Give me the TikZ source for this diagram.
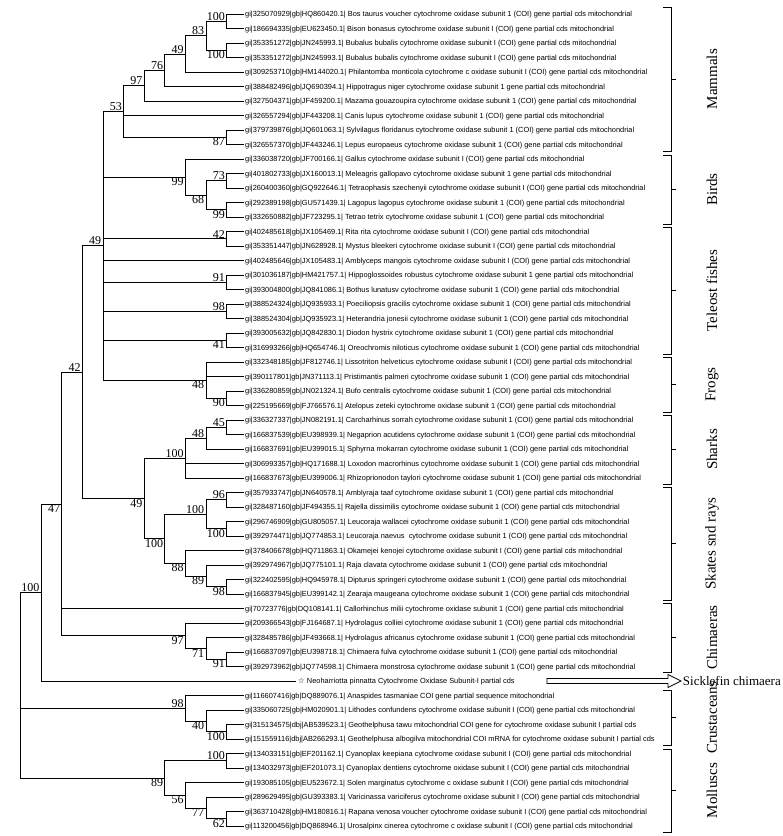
\documentclass[tikz,border=0pt]{standalone}
\usepackage{fontspec}
\setmainfont{Liberation Serif}
\newfontfamily\labfont{Liberation Sans}
\newfontfamily\symfont{DejaVu Sans}
\usetikzlibrary{calc}
\newcommand\lf[3]{%
  \coordinate (#2) at (244,{14+14.5*(#1-1)});
  \node[lab,anchor=base west] (#2t) at ([yshift=-2.7pt]#2) {#3};}
\newcommand\inode[4]{\path let \p1=($(#3)!0.5!(#4)$) in coordinate (#1) at ({226.5pt-20.6pt*(#2-1)},\y1);}
\newcommand\ba[2]{\node[bs,anchor=south east] (#1lab) at ([xshift=-1pt]#1) {#2};}
\newcommand\bb[2]{\node[bs,anchor=north east] (#1lab) at ([xshift=-1pt]#1) {#2};}
\newcommand\ed[2]{\draw[br] (#1) |- (#2);}
\newcommand\brk[4]{%
  \draw[br] (663,#1) -- (671,#1) -- (671,#2) -- (663,#2);
  \draw[br] (671,{(#1+#2)/2}) -- (676,{(#1+#2)/2});
  \node[grp] (#3) at (712,{(#1+#2)/2}) {#4};}
\begin{document}
\begin{tikzpicture}[x=1pt,y=-1pt,
  br/.style={line width=0.7pt},
  lab/.style={font=\labfont\fontsize{7.4}{8}\selectfont, inner sep=0pt, inner xsep=1pt},
  bs/.style={font=\fontsize{12}{12}\selectfont, inner sep=0.5pt},
  grp/.style={font=\fontsize{15}{15}\selectfont, rotate=90, inner sep=0pt}]
\useasboundingbox (0,0) rectangle (783,836);
% leaves
\lf{1}{L1}{gi|325070929|gb|HQ860420.1| Bos taurus voucher cytochrome oxidase subunit 1 (COI) gene partial cds mitochondrial}
\lf{2}{L2}{gi|186694335|gb|EU623450.1| Bison bonasus cytochrome oxidase subunit I (COI) gene partial cds mitochondrial}
\lf{3}{L3}{gi|353351272|gb|JN245993.1| Bubalus bubalis cytochrome oxidase subunit I (COI) gene partial cds mitochondrial}
\lf{4}{L4}{gi|353351272|gb|JN245993.1| Bubalus bubalis cytochrome oxidase subunit I (COI) gene partial cds mitochondrial}
\lf{5}{L5}{gi|309253710|gb|HM144020.1| Philantomba monticola cytochrome c oxidase subunit I (COI) gene partial cds mitochondrial}
\lf{6}{L6}{gi|388482496|gb|JQ690394.1| Hippotragus niger cytochrome oxidase subunit 1 gene partial cds mitochondrial}
\lf{7}{L7}{gi|327504371|gb|JF459200.1| Mazama gouazoupira cytochrome oxidase subunit 1 (COI) gene partial cds mitochondrial}
\lf{8}{L8}{gi|326557294|gb|JF443208.1| Canis lupus cytochrome oxidase subunit 1 (COI) gene partial cds mitochondrial}
\lf{9}{L9}{gi|379739876|gb|JQ601063.1| Sylvilagus floridanus cytochrome oxidase subunit 1 (COI) gene partial cds mitochondrial}
\lf{10}{L10}{gi|326557370|gb|JF443246.1| Lepus europaeus cytochrome oxidase subunit 1 (COI) gene partial cds mitochondrial}
\lf{11}{L11}{gi|336038720|gb|JF700166.1| Gallus cytochrome oxidase subunit I (COI) gene partial cds mitochondrial}
\lf{12}{L12}{gi|401802733|gb|JX160013.1| Meleagris gallopavo cytochrome oxidase subunit 1 gene partial cds mitochondrial}
\lf{13}{L13}{gi|260400360|gb|GQ922646.1| Tetraophasis szechenyii cytochrome oxidase subunit I (COI) gene partial cds mitochondrial}
\lf{14}{L14}{gi|292389198|gb|GU571439.1| Lagopus lagopus cytochrome oxidase subunit 1 (COI) gene partial cds mitochondrial}
\lf{15}{L15}{gi|332650882|gb|JF723295.1| Tetrao tetrix cytochrome oxidase subunit 1 (COI) gene partial cds mitochondrial}
\lf{16}{L16}{gi|402485618|gb|JX105469.1| Rita rita cytochrome oxidase subunit I (COI) gene partial cds mitochondrial}
\lf{17}{L17}{gi|353351447|gb|JN628928.1| Mystus bleekeri cytochrome oxidase subunit I (COI) gene partial cds mitochondrial}
\lf{18}{L18}{gi|402485646|gb|JX105483.1| Amblyceps mangois cytochrome oxidase subunit I (COI) gene partial cds mitochondrial}
\lf{19}{L19}{gi|301036187|gb|HM421757.1| Hippoglossoides robustus cytochrome oxidase subunit 1 gene partial cds mitochondrial}
\lf{20}{L20}{gi|393004800|gb|JQ841086.1| Bothus lunatusv cytochrome oxidase subunit 1 (COI) gene partial cds mitochondrial}
\lf{21}{L21}{gi|388524324|gb|JQ935933.1| Poeciliopsis gracilis cytochrome oxidase subunit 1 (COI) gene partial cds mitochondrial}
\lf{22}{L22}{gi|388524304|gb|JQ935923.1| Heterandria jonesii cytochrome oxidase subunit 1 (COI) gene partial cds mitochondrial}
\lf{23}{L23}{gi|393005632|gb|JQ842830.1| Diodon hystrix cytochrome oxidase subunit 1 (COI) gene partial cds mitochondrial}
\lf{24}{L24}{gi|316993266|gb|HQ654746.1| Oreochromis niloticus cytochrome oxidase subunit 1 (COI) gene partial cds mitochondrial}
\lf{25}{L25}{gi|332348185|gb|JF812746.1| Lissotriton helveticus cytochrome oxidase subunit I (COI) gene partial cds mitochondrial}
\lf{26}{L26}{gi|390117801|gb|JN371113.1| Pristimantis palmeri cytochrome oxidase subunit 1 (COI) gene partial cds mitochondrial}
\lf{27}{L27}{gi|336280859|gb|JN021324.1| Bufo centralis cytochrome oxidase subunit 1 (COI) gene partial cds mitochondrial}
\lf{28}{L28}{gi|225195669|gb|FJ766576.1| Atelopus zeteki cytochrome oxidase subunit 1 (COI) gene partial cds mitochondrial}
\lf{29}{L29}{gi|336327337|gb|JN082191.1| Carcharhinus sorrah cytochrome oxidase subunit 1 (COI) gene partial cds mitochondrial}
\lf{30}{L30}{gi|166837539|gb|EU398939.1| Negaprion acutidens cytochrome oxidase subunit 1 (COI) gene partial cds mitochondrial}
\lf{31}{L31}{gi|166837691|gb|EU399015.1| Sphyrna mokarran cytochrome oxidase subunit 1 (COI) gene partial cds mitochondrial}
\lf{32}{L32}{gi|306993357|gb|HQ171688.1| Loxodon macrorhinus cytochrome oxidase subunit 1 (COI) gene partial cds mitochondrial}
\lf{33}{L33}{gi|166837673|gb|EU399006.1| Rhizoprionodon taylori cytochrome oxidase subunit 1 (COI) gene partial cds mitochondrial}
\lf{34}{L34}{gi|357933747|gb|JN640578.1| Amblyraja taaf cytochrome oxidase subunit 1 (COI) gene partial cds mitochondrial}
\lf{35}{L35}{gi|328487160|gb|JF494355.1| Rajella dissimilis cytochrome oxidase subunit 1 (COI) gene partial cds mitochondrial}
\lf{36}{L36}{gi|296746909|gb|GU805057.1| Leucoraja wallacei cytochrome oxidase subunit 1 (COI) gene partial cds mitochondrial}
\lf{37}{L37}{gi|392974471|gb|JQ774853.1| Leucoraja naevus \ cytochrome oxidase subunit 1 (COI) gene partial cds mitochondrial}
\lf{38}{L38}{gi|378406678|gb|HQ711863.1| Okamejei kenojei cytochrome oxidase subunit I (COI) gene partial cds mitochondrial}
\lf{39}{L39}{gi|392974967|gb|JQ775101.1| Raja clavata cytochrome oxidase subunit 1 (COI) gene partial cds mitochondrial}
\lf{40}{L40}{gi|322402595|gb|HQ945978.1| Dipturus springeri cytochrome oxidase subunit 1 (COI) gene partial cds mitochondrial}
\lf{41}{L41}{gi|166837945|gb|EU399142.1| Zearaja maugeana cytochrome oxidase subunit 1 (COI) gene partial cds mitochondrial}
\lf{42}{L42}{gi|70723776|gb|DQ108141.1| Callorhinchus milii cytochrome oxidase subunit 1 (COI) gene partial cds mitochondrial}
\lf{43}{L43}{gi|209366543|gb|FJ164687.1| Hydrolagus colliei cytochrome oxidase subunit 1 (COI) gene partial cds mitochondrial}
\lf{44}{L44}{gi|328485786|gb|JF493668.1| Hydrolagus africanus cytochrome oxidase subunit 1 (COI) gene partial cds mitochondrial}
\lf{45}{L45}{gi|166837097|gb|EU398718.1| Chimaera fulva cytochrome oxidase subunit 1 (COI) gene partial cds mitochondrial}
\lf{46}{L46}{gi|392973962|gb|JQ774598.1| Chimaera monstrosa cytochrome oxidase subunit 1 (COI) gene partial cds mitochondrial}
\coordinate (L47) at (296,{14+14.5*46});
\node[lab,anchor=base west] (L47t) at ([yshift=-2.7pt,xshift=1pt]L47) {{\symfont\fontsize{7.5}{8}\selectfont ☆} Neoharriotta pinnatta Cytochrome Oxidase Subunit-I partial cds};
\lf{48}{L48}{gi|116607416|gb|DQ889076.1| Anaspides tasmaniae COI gene partial sequence mitochondrial}
\lf{49}{L49}{gi|335060725|gb|HM020901.1| Lithodes confundens cytochrome oxidase subunit I (COI) gene partial cds mitochondrial}
\lf{50}{L50}{gi|315134575|dbj|AB539523.1| Geothelphusa tawu mitochondrial COI gene for cytochrome oxidase subunit I partial cds}
\lf{51}{L51}{gi|151559116|dbj|AB266293.1| Geothelphusa albogilva mitochondrial COI mRNA for cytochrome oxidase subunit I partial cds}
\lf{52}{L52}{gi|134033151|gb|EF201162.1| Cyanoplax keepiana cytochrome oxidase subunit I (COI) gene partial cds mitochondrial}
\lf{53}{L53}{gi|134032973|gb|EF201073.1| Cyanoplax dentiens cytochrome oxidase subunit I (COI) gene partial cds mitochondrial}
\lf{54}{L54}{gi|193085105|gb|EU523672.1| Solen marginatus cytochrome c oxidase subunit I (COI) gene partial cds mitochondrial}
\lf{55}{L55}{gi|289629495|gb|GU393383.1| Varicinassa variciferus cytochrome oxidase subunit I (COI) gene partial cds mitochondrial}
\lf{56}{L56}{gi|363710428|gb|HM180816.1| Rapana venosa voucher cytochrome oxidase subunit I (COI) gene partial cds mitochondrial}
\lf{57}{L57}{gi|113200456|gb|DQ868946.1| Urosalpinx cinerea cytochrome c oxidase subunit I (COI) gene partial cds mitochondrial}
% internal nodes
\inode{nBos}{1}{L1}{L2}
\inode{nBub}{1}{L3}{L4}
\inode{n83}{2}{nBos}{nBub}
\inode{n49a}{3}{n83}{L5}
\inode{n76}{4}{n49a}{L6}
\inode{n97}{5}{n76}{L7}
\inode{n87}{1}{L9}{L10}
\inode{n53}{6}{n97}{n87}
\inode{n73}{1}{L12}{L13}
\inode{n99b}{1}{L14}{L15}
\inode{n68}{2}{n73}{n99b}
\inode{n99a}{3}{L11}{n68}
\inode{n42t}{1}{L16}{L17}
\inode{n91}{1}{L19}{L20}
\inode{n98t}{1}{L21}{L22}
\inode{n41}{1}{L23}{L24}
\inode{n90}{1}{L27}{L28}
\inode{n48f}{2}{L25}{n90}
\inode{n49b}{7}{n53}{n48f}
\inode{n45}{1}{L29}{L30}
\inode{n48s}{2}{n45}{L31}
\inode{n100s}{3}{n48s}{L33}
\inode{n96}{1}{L34}{L35}
\inode{n100L}{1}{L36}{L37}
\inode{n100a}{2}{n96}{n100L}
\inode{n98z}{1}{L40}{L41}
\inode{n89r}{2}{L39}{n98z}
\inode{n88}{3}{L38}{n89r}
\inode{n100r}{4}{n100a}{n88}
\inode{n49s}{5}{n100s}{n100r}
\inode{n42}{8}{n49b}{n49s}
\inode{n91c}{1}{L45}{L46}
\inode{n71}{2}{L44}{n91c}
\inode{n97c}{3}{L43}{n71}
\inode{n47}{9}{n42}{n97c}
\inode{nA}{10}{n47}{L47}
\inode{n100g}{1}{L50}{L51}
\inode{n40}{2}{L49}{n100g}
\inode{n98c}{3}{L48}{n40}
\inode{n100c}{1}{L52}{L53}
\inode{n62}{1}{L56}{L57}
\inode{n77}{2}{L55}{n62}
\inode{n56}{3}{L54}{n77}
\inode{n89}{4}{n100c}{n56}
\inode{root}{11}{nA}{n89}
% edges
\ed{nBos}{L1}\ed{nBos}{L2}\ed{nBub}{L3}\ed{nBub}{L4}
\ed{n83}{nBos}\ed{n83}{nBub}\ed{n49a}{n83}\ed{n49a}{L5}
\ed{n76}{n49a}\ed{n76}{L6}\ed{n97}{n76}\ed{n97}{L7}
\ed{n87}{L9}\ed{n87}{L10}\ed{n53}{n97}\ed{n53}{L8}\ed{n53}{n87}
\ed{n73}{L12}\ed{n73}{L13}\ed{n99b}{L14}\ed{n99b}{L15}
\ed{n68}{n73}\ed{n68}{n99b}\ed{n99a}{L11}\ed{n99a}{n68}
\ed{n42t}{L16}\ed{n42t}{L17}\ed{n91}{L19}\ed{n91}{L20}
\ed{n98t}{L21}\ed{n98t}{L22}\ed{n41}{L23}\ed{n41}{L24}
\ed{n90}{L27}\ed{n90}{L28}\ed{n48f}{L25}\ed{n48f}{L26}\ed{n48f}{n90}
\ed{n49b}{n53}\ed{n49b}{n99a}\ed{n49b}{n42t}\ed{n49b}{L18}
\ed{n49b}{n91}\ed{n49b}{n98t}\ed{n49b}{n41}\ed{n49b}{n48f}
\ed{n45}{L29}\ed{n45}{L30}\ed{n48s}{n45}\ed{n48s}{L31}
\ed{n100s}{n48s}\ed{n100s}{L32}\ed{n100s}{L33}
\ed{n96}{L34}\ed{n96}{L35}\ed{n100L}{L36}\ed{n100L}{L37}
\ed{n100a}{n96}\ed{n100a}{n100L}\ed{n98z}{L40}\ed{n98z}{L41}
\ed{n89r}{L39}\ed{n89r}{n98z}\ed{n88}{L38}\ed{n88}{n89r}
\ed{n100r}{n100a}\ed{n100r}{n88}\ed{n49s}{n100s}\ed{n49s}{n100r}
\ed{n42}{n49b}\ed{n42}{n49s}
\ed{n91c}{L45}\ed{n91c}{L46}\ed{n71}{L44}\ed{n71}{n91c}
\ed{n97c}{L43}\ed{n97c}{n71}
\ed{n47}{n42}\ed{n47}{L42}\ed{n47}{n97c}
\ed{nA}{n47}\ed{nA}{L47}
\ed{n100g}{L50}\ed{n100g}{L51}\ed{n40}{L49}\ed{n40}{n100g}
\ed{n98c}{L48}\ed{n98c}{n40}
\ed{n100c}{L52}\ed{n100c}{L53}\ed{n62}{L56}\ed{n62}{L57}
\ed{n77}{L55}\ed{n77}{n62}\ed{n56}{L54}\ed{n56}{n77}
\ed{n89}{n100c}\ed{n89}{n56}
\ed{root}{nA}\ed{root}{n98c}\ed{root}{n89}
% bootstrap values
\ba{nBos}{100}\bb{nBub}{100}\ba{n83}{83}\ba{n49a}{49}\ba{n76}{76}\ba{n97}{97}
\ba{n53}{53}\bb{n87}{87}
\bb{n99a}{99}\ba{n73}{73}\bb{n68}{68}\bb{n99b}{99}
\ba{n42t}{42}\ba{n91}{91}\ba{n98t}{98}\bb{n41}{41}
\bb{n48f}{48}\bb{n90}{90}\ba{n49b}{49}
\ba{n45}{45}\ba{n48s}{48}\ba{n100s}{100}
\ba{n96}{96}\ba{n100a}{100}\bb{n100L}{100}
\bb{n88}{88}\bb{n89r}{89}\bb{n98z}{98}\bb{n100r}{100}\bb{n49s}{49}
\ba{n42}{42}
\bb{n97c}{97}\bb{n71}{71}\bb{n91c}{91}
\bb{n47}{47}\ba{nA}{100}
\ba{n98c}{98}\bb{n40}{40}\bb{n100g}{100}
\ba{n100c}{100}\bb{n89}{89}\bb{n56}{56}\bb{n77}{77}\bb{n62}{62}
% group brackets
\brk{7}{151}{gMam}{Mammals}
\brk{155}{224}{gBird}{Birds}
\brk{227}{354}{gTel}{Teleost fishes}
\brk{357}{412}{gFrog}{Frogs}
\brk{415}{484}{gShark}{Sharks}
\brk{487}{600}{gSkate}{Skates snd rays}
\brk{603}{672}{gChim}{Chimaeras}
\brk{690}{745}{gCrus}{Crustaceans}
\brk{749}{832}{gMoll}{Molluscs}
% arrow to Sicklefin chimaera
\coordinate (arS) at (547,681);
\draw[br,fill=white] (arS) ++(0,-2.5) -- ++(121,0) -- ++(0,-4) -- ++(13,6.5) -- ++(-13,6.5) -- ++(0,-4) -- ++(-121,0) -- cycle;
\node[font=\fontsize{13}{13}\selectfont, anchor=east, inner sep=0pt] (sick) at (781,681) {Sicklefin chimaera};
\end{tikzpicture}
\end{document}
